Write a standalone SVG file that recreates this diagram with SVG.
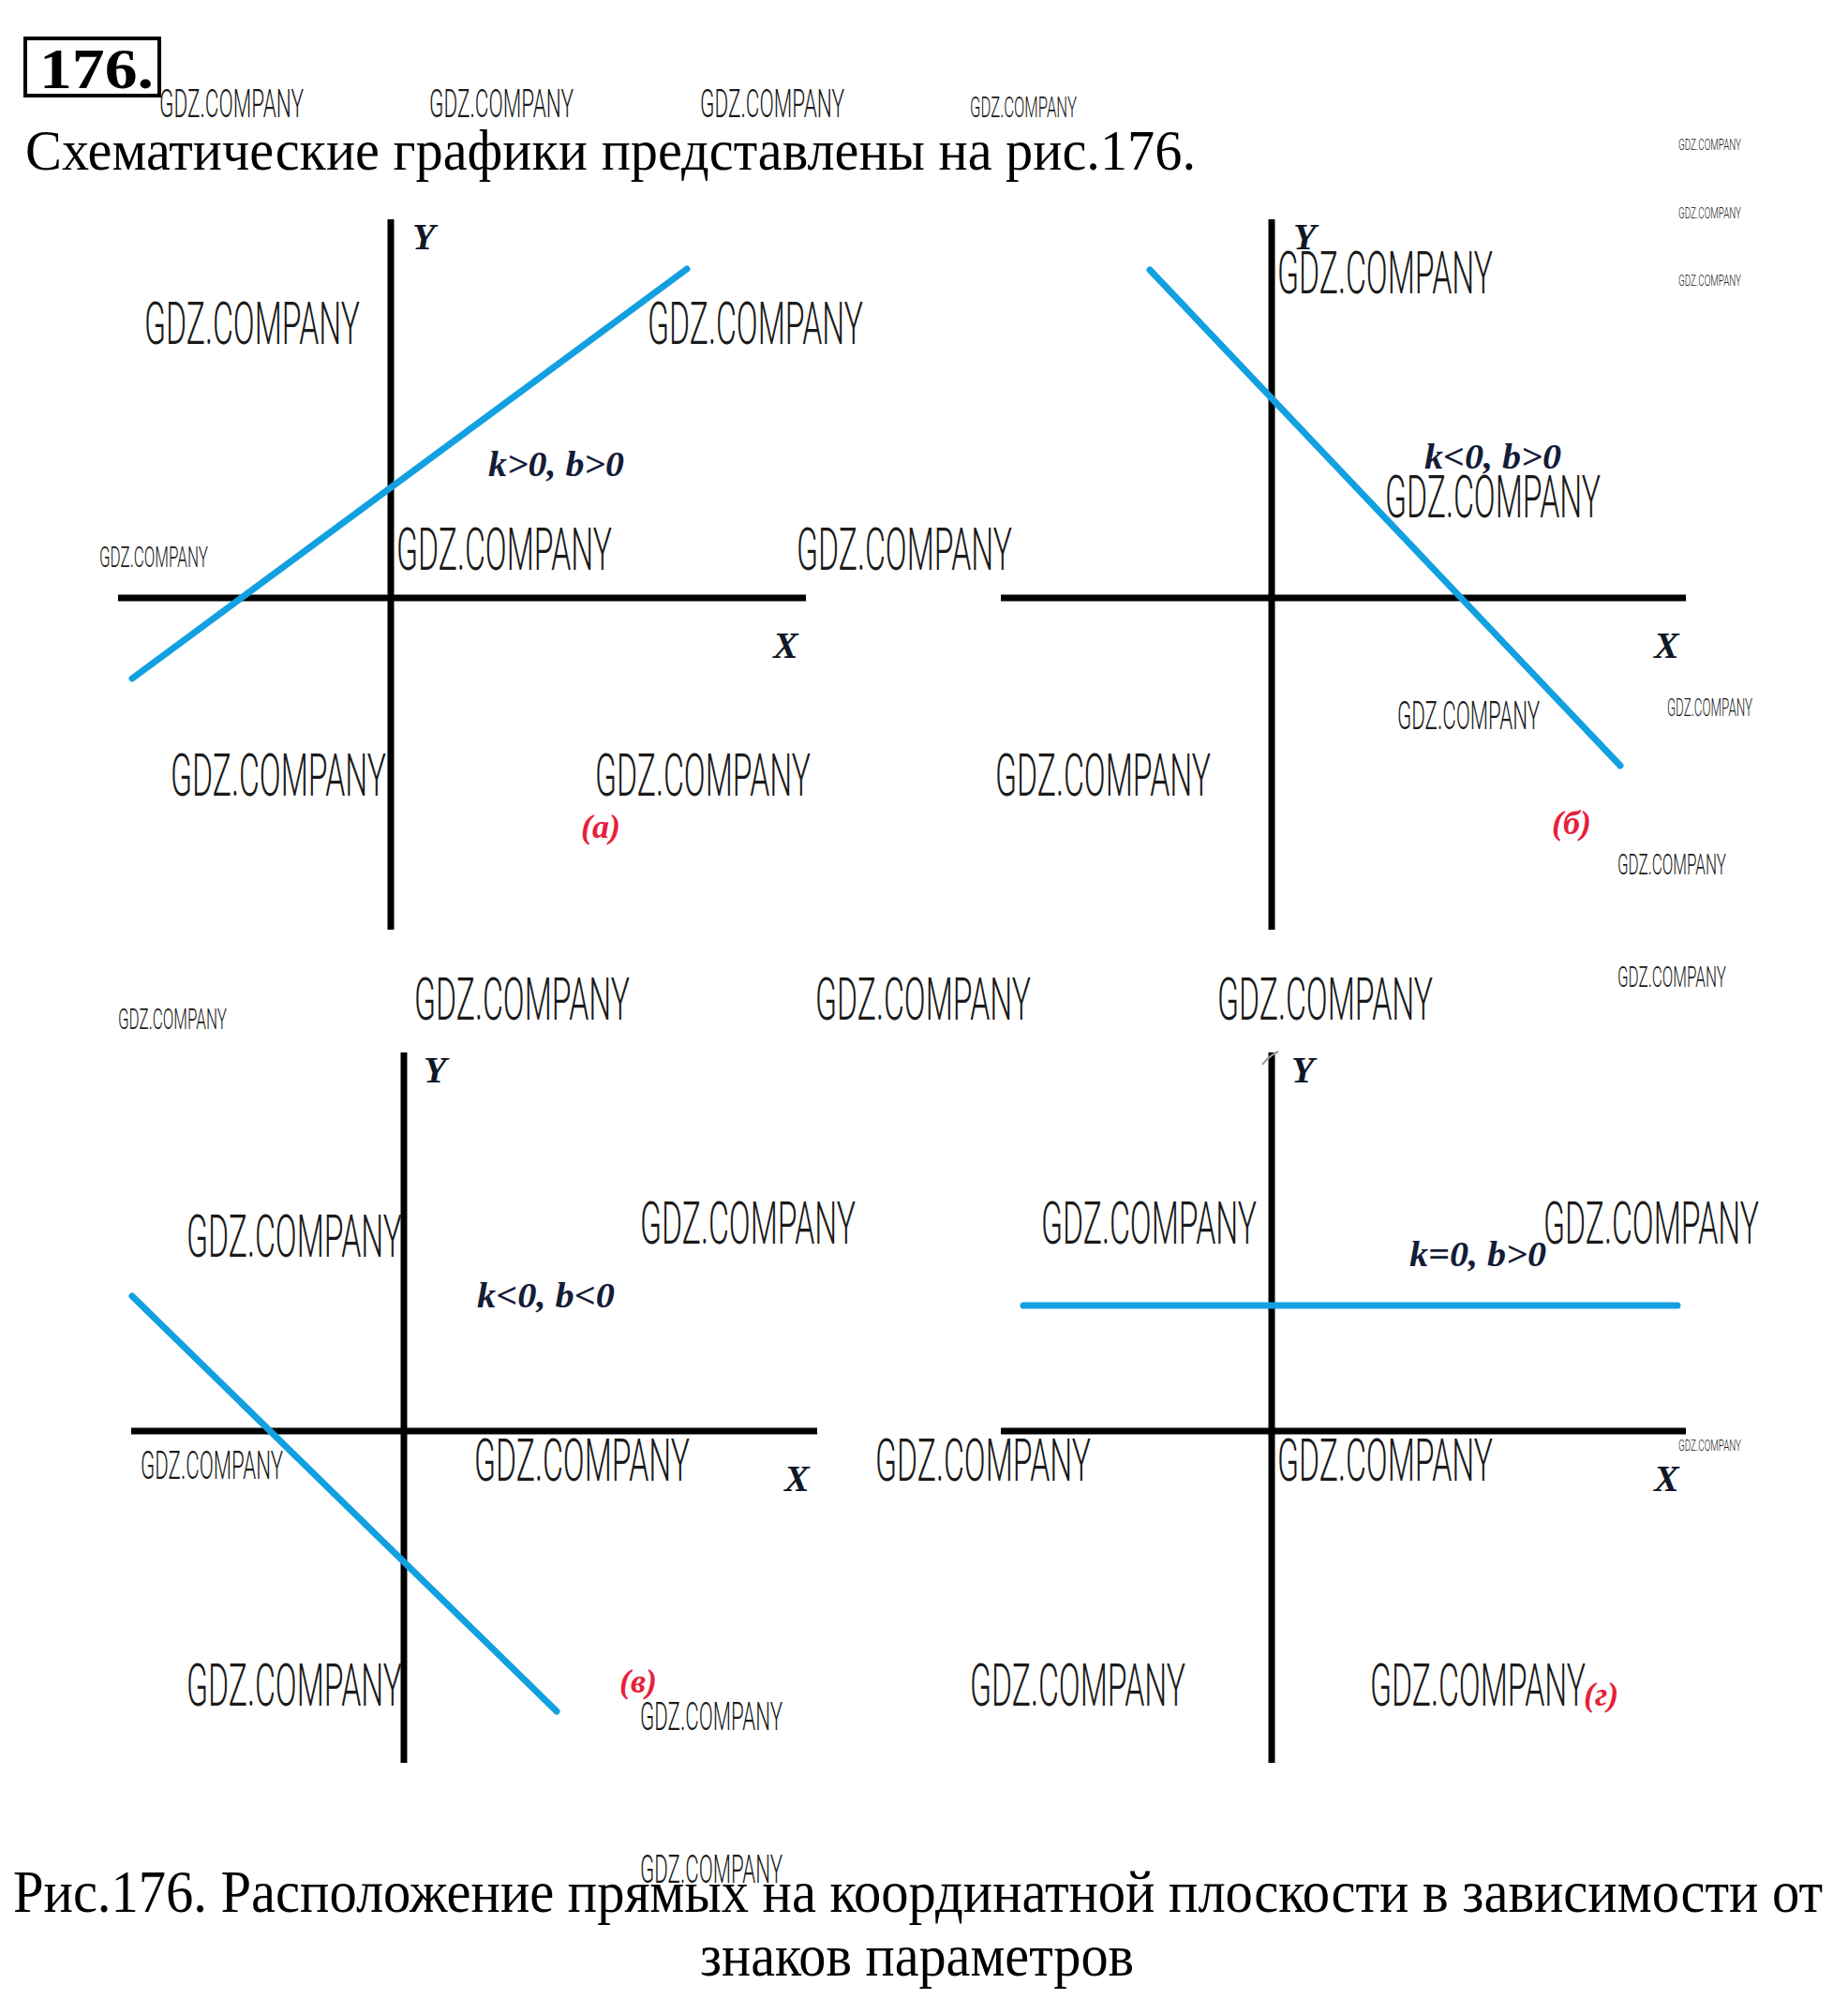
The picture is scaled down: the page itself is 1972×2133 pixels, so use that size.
<svg xmlns="http://www.w3.org/2000/svg" width="1972" height="2133" viewBox="0 0 1972 2133">
<style>
.bg{fill:#fff}
.axis{stroke:#000;stroke-width:7;fill:none}
.blue{stroke:#12a0e0;stroke-width:7;fill:none;stroke-linecap:round}
.ax{font-family:"Liberation Serif",serif;font-weight:bold;font-style:italic;font-size:40px;fill:#101828}
.par{font-family:"Liberation Serif",serif;font-weight:bold;font-style:italic;font-size:38px;fill:#141c38}
.lab{font-family:"Liberation Serif",serif;font-weight:bold;font-style:italic;font-size:36px;fill:#e8203a}
.serif{font-family:"Liberation Serif",serif;fill:#000}
.wm{font-family:Roboto,"Liberation Sans",sans-serif;font-weight:300;fill:#1a1a1a}
.wl{font-size:63px}
.wn{font-size:42px}
.ws{font-size:31px}
.wx{font-size:25px}
.wt{font-size:17px}
</style>
<rect class="bg" x="0" y="0" width="1972" height="2133"/>

<g id="header">
  <rect x="27" y="41" width="143" height="61" fill="none" stroke="#000" stroke-width="4"/>
  <text class="serif" x="42" y="94" font-size="62" font-weight="bold" textLength="122" lengthAdjust="spacingAndGlyphs">176.</text>
  <text class="serif" x="27" y="181" font-size="62" textLength="1249" lengthAdjust="spacingAndGlyphs">Схематические графики представлены на рис.176.</text>
</g>

<g id="graph-a">
  <line class="axis" x1="417" y1="234" x2="417" y2="992"/>
  <line class="axis" x1="126" y1="638" x2="860" y2="638"/>
  <line class="blue" x1="141" y1="724" x2="733" y2="287"/>
  <text class="ax" x="440" y="266">Y</text>
  <text class="ax" x="825" y="702">X</text>
  <text class="par" x="521" y="508" textLength="145" lengthAdjust="spacingAndGlyphs">k&gt;0, b&gt;0</text>
  <text class="lab" x="620" y="894">(а)</text>
</g>

<g id="graph-b">
  <line class="axis" x1="1357" y1="234" x2="1357" y2="992"/>
  <line class="axis" x1="1068" y1="638" x2="1799" y2="638"/>
  <line class="blue" x1="1227" y1="288" x2="1729" y2="817"/>
  <text class="ax" x="1380" y="266">Y</text>
  <text class="ax" x="1765" y="702">X</text>
  <text class="par" x="1520" y="500" textLength="146" lengthAdjust="spacingAndGlyphs">k&lt;0, b&gt;0</text>
  <text class="lab" x="1656" y="890">(б)</text>
</g>

<g id="graph-v">
  <line class="axis" x1="431" y1="1123" x2="431" y2="1881"/>
  <line class="axis" x1="140" y1="1527" x2="872" y2="1527"/>
  <line class="blue" x1="141" y1="1383" x2="594" y2="1826"/>
  <text class="ax" x="452" y="1155">Y</text>
  <text class="ax" x="837" y="1591">X</text>
  <text class="par" x="509" y="1395" textLength="147" lengthAdjust="spacingAndGlyphs">k&lt;0, b&lt;0</text>
  <text class="lab" x="661" y="1806">(в)</text>
</g>

<g id="graph-g">
  <line class="axis" x1="1357" y1="1123" x2="1357" y2="1881"/>
  <path d="M1347,1136 Q1354,1127 1364,1122" stroke="#999" stroke-width="2" fill="none"/>
  <line class="axis" x1="1068" y1="1527" x2="1799" y2="1527"/>
  <line class="blue" x1="1092" y1="1393" x2="1790" y2="1393" stroke-linecap="butt"/>
  <text class="ax" x="1378" y="1155">Y</text>
  <text class="ax" x="1765" y="1591">X</text>
  <text class="par" x="1504" y="1351" textLength="146" lengthAdjust="spacingAndGlyphs">k=0, b&gt;0</text>
  <text class="lab" x="1690" y="1820">(г)</text>
</g>

<g id="caption">
  <text class="serif" x="14" y="2040" font-size="64" textLength="1931" lengthAdjust="spacingAndGlyphs">Рис.176. Расположение прямых на координатной плоскости в зависимости от</text>
  <text class="serif" x="747" y="2108" font-size="64" textLength="463" lengthAdjust="spacingAndGlyphs">знаков параметров</text>
</g>

<g id="watermarks" class="wm">
  <text class="wl" x="154" y="367" textLength="230" lengthAdjust="spacingAndGlyphs">GDZ.COMPANY</text>
  <text class="wl" x="691" y="367" textLength="230" lengthAdjust="spacingAndGlyphs">GDZ.COMPANY</text>
  <text class="wl" x="423" y="608" textLength="230" lengthAdjust="spacingAndGlyphs">GDZ.COMPANY</text>
  <text class="wl" x="850" y="608" textLength="230" lengthAdjust="spacingAndGlyphs">GDZ.COMPANY</text>
  <text class="wl" x="1363" y="313" textLength="230" lengthAdjust="spacingAndGlyphs">GDZ.COMPANY</text>
  <text class="wl" x="1478" y="552" textLength="230" lengthAdjust="spacingAndGlyphs">GDZ.COMPANY</text>
  <text class="wl" x="182" y="849" textLength="230" lengthAdjust="spacingAndGlyphs">GDZ.COMPANY</text>
  <text class="wl" x="635" y="849" textLength="230" lengthAdjust="spacingAndGlyphs">GDZ.COMPANY</text>
  <text class="wl" x="1062" y="849" textLength="230" lengthAdjust="spacingAndGlyphs">GDZ.COMPANY</text>
  <text class="wl" x="442" y="1088" textLength="230" lengthAdjust="spacingAndGlyphs">GDZ.COMPANY</text>
  <text class="wl" x="870" y="1088" textLength="230" lengthAdjust="spacingAndGlyphs">GDZ.COMPANY</text>
  <text class="wl" x="1299" y="1088" textLength="230" lengthAdjust="spacingAndGlyphs">GDZ.COMPANY</text>
  <text class="wl" x="199" y="1341" textLength="230" lengthAdjust="spacingAndGlyphs">GDZ.COMPANY</text>
  <text class="wl" x="683" y="1327" textLength="230" lengthAdjust="spacingAndGlyphs">GDZ.COMPANY</text>
  <text class="wl" x="1111" y="1327" textLength="230" lengthAdjust="spacingAndGlyphs">GDZ.COMPANY</text>
  <text class="wl" x="1647" y="1327" textLength="230" lengthAdjust="spacingAndGlyphs">GDZ.COMPANY</text>
  <text class="wl" x="506" y="1580" textLength="230" lengthAdjust="spacingAndGlyphs">GDZ.COMPANY</text>
  <text class="wl" x="934" y="1580" textLength="230" lengthAdjust="spacingAndGlyphs">GDZ.COMPANY</text>
  <text class="wl" x="1363" y="1580" textLength="230" lengthAdjust="spacingAndGlyphs">GDZ.COMPANY</text>
  <text class="wl" x="199" y="1820" textLength="230" lengthAdjust="spacingAndGlyphs">GDZ.COMPANY</text>
  <text class="wl" x="1035" y="1820" textLength="230" lengthAdjust="spacingAndGlyphs">GDZ.COMPANY</text>
  <text class="wl" x="1462" y="1820" textLength="230" lengthAdjust="spacingAndGlyphs">GDZ.COMPANY</text>

  <text class="wn" x="170" y="125" textLength="154" lengthAdjust="spacingAndGlyphs">GDZ.COMPANY</text>
  <text class="wn" x="458" y="125" textLength="154" lengthAdjust="spacingAndGlyphs">GDZ.COMPANY</text>
  <text class="wn" x="747" y="125" textLength="154" lengthAdjust="spacingAndGlyphs">GDZ.COMPANY</text>
  <text class="wn" x="1491" y="778" textLength="152" lengthAdjust="spacingAndGlyphs">GDZ.COMPANY</text>
  <text class="wn" x="150" y="1578" textLength="152" lengthAdjust="spacingAndGlyphs">GDZ.COMPANY</text>
  <text class="wn" x="683" y="1846" textLength="152" lengthAdjust="spacingAndGlyphs">GDZ.COMPANY</text>
  <text class="wn" x="683" y="2009" textLength="152" lengthAdjust="spacingAndGlyphs">GDZ.COMPANY</text>

  <text class="ws" x="1035" y="125" textLength="114" lengthAdjust="spacingAndGlyphs">GDZ.COMPANY</text>
  <text class="ws" x="106" y="605" textLength="116" lengthAdjust="spacingAndGlyphs">GDZ.COMPANY</text>
  <text class="ws" x="1726" y="933" textLength="116" lengthAdjust="spacingAndGlyphs">GDZ.COMPANY</text>
  <text class="ws" x="1726" y="1053" textLength="116" lengthAdjust="spacingAndGlyphs">GDZ.COMPANY</text>
  <text class="ws" x="126" y="1098" textLength="116" lengthAdjust="spacingAndGlyphs">GDZ.COMPANY</text>

  <text class="wx" x="1779" y="764" textLength="91" lengthAdjust="spacingAndGlyphs">GDZ.COMPANY</text>

  <text class="wt" x="1791" y="160" textLength="67" lengthAdjust="spacingAndGlyphs">GDZ.COMPANY</text>
  <text class="wt" x="1791" y="233" textLength="67" lengthAdjust="spacingAndGlyphs">GDZ.COMPANY</text>
  <text class="wt" x="1791" y="305" textLength="67" lengthAdjust="spacingAndGlyphs">GDZ.COMPANY</text>
  <text class="wt" x="1791" y="1548" textLength="67" lengthAdjust="spacingAndGlyphs">GDZ.COMPANY</text>
</g>
</svg>
